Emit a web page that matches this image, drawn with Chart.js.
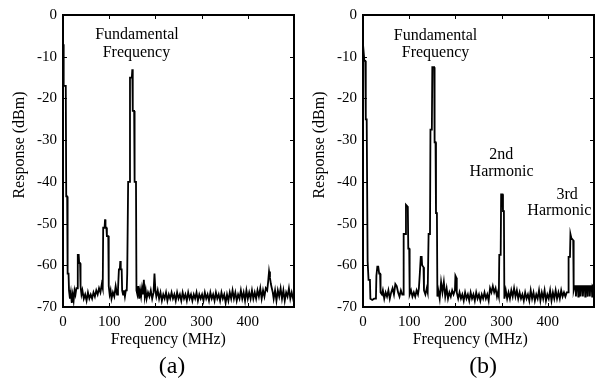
<!DOCTYPE html>
<html>
<head>
<meta charset="utf-8">
<script src="https://cdn.jsdelivr.net/npm/chart.js@4.4.1/dist/chart.umd.min.js"></script>
<style>
  html, body { margin: 0; padding: 0; background: #fff; overflow: hidden; width: 597px; height: 381px; }
  canvas { position: absolute; top: 0; }
  #chartA { left: 0; }
  #chartB { left: 300px; }
</style>
</head>
<body>
<canvas id="chartA" width="300" height="381"></canvas>
<canvas id="chartB" width="300" height="381"></canvas>
<script>
// panel (a) trace, frequency in MHz / response in dBm
const freqA = [0,1,2,6,7,9,10,12,13,15,17,19,21,23,25,27,29,31,32,34,35,37,38,40,42,45,48,51,54,57,60,63,66,69,72,75,78,81,84,86,
  87,90,91,92,94,95,98,99,101,103,105,108,111,114,117,119,121,123,124,125,127,128,130,132,134,136,138,139,140,141,144,145,149,150,151,154,155,158,159,
  161,163,165,167,169,171,173,175,177,179,181,184,187,190,193,196,198,200,202,205,208,211,214,217,220,223,226,229,232,235,238,241,244,247,250,
  253,256,259,262,265,268,271,274,277,280,283,286,289,292,295,298,301,304,307,310,313,316,319,322,325,328,331,334,337,340,343,346,349,352,355,
  358,361,364,367,370,373,376,379,382,385,388,391,394,397,400,403,406,409,412,415,418,421,424,427,430,433,436,439,442,444,446,448,450,452,454,
  456,459,462,465,468,471,474,477,480,483,486,489,492,495,498,500];
const respA = [-7,-7,-17,-17,-43.5,-43.5,-62,-62,-66,-68,-66.5,-69,-67,-68.5,-66,-67,-65.5,-65.5,-57.5,-57.5,-59.5,-59.5,-65,-67,-66,-68,-67,-68.5,-66.5,-68,-67,-68,-66.5,-67.5,-66,-67,-65.5,-66.5,-64.5,-65.5,
  -51,-51,-49,-51,-51,-53,-53,-65,-67,-66,-68,-66.5,-67.5,-65,-67,-66,-61,-61,-59,-61,-61,-66,-67,-66,-67.5,-66,-66,-62,-62,-40,-40,-15,-15,-13,-23,-23,-40,-40,-66,
  -67,-65,-68,-66,-67.5,-65.5,-67,-63.5,-67.5,-66,-68,-66.5,-67.5,-66,-68,-66.5,-62,-66,-67.5,-66,-68,-66.5,-68.5,-67,-68,-66.5,-68.5,-67,-68,-66.5,-68,-67,-68.5,-66.5,-68,
  -67,-68.5,-66.5,-68,-67,-68.5,-66.5,-68,-67,-68.5,-67,-68,-66.5,-68.5,-67,-68,-67,-68.5,-66.5,-68,-67,-68.5,-66.5,-68,-67,-68.5,-66.5,-68,-67,-68.5,-66.5,-68,-67,-69,-67,
  -68.5,-66.5,-68,-66,-68,-66.5,-68.5,-67,-68,-66,-68,-66.5,-68.5,-66,-68,-66.5,-68,-66,-68,-66.5,-68,-66,-67.5,-65.5,-68,-66,-67.5,-65.5,-66,-64,-61.5,-63,-64.5,-65.5,-66.5,
  -68,-66,-68.5,-66,-67.5,-65.5,-68,-66,-68.5,-66.5,-67.5,-65.5,-68,-66.5,-68,-67];

// panel (b) trace
const freqB = [0,2,3,5,6,8,10,12,15,16,20,24,28,29,31,33,35,37,38,41,43,46,49,52,55,58,61,64,67,70,73,76,79,82,85,
  87,88,92,93,97,98,100,101,104,107,110,113,116,119,121,123,125,127,128,131,132,135,138,140,142,145,146,149,150,154,155,157,158,160,
  161,163,166,169,172,175,178,181,184,187,190,193,196,199,200,202,203,206,209,212,215,218,221,224,227,230,233,236,239,242,245,248,251,254,257,260,
  263,266,269,272,275,278,281,284,287,290,292,294,295,298,299,302,303,305,306,309,312,315,318,321,324,327,330,333,336,339,342,345,348,351,354,357,
  360,363,366,369,372,375,378,381,384,387,390,393,396,399,402,405,408,411,414,417,420,423,426,429,432,435,438,441,444,445,448,449,451,455,456,458,
  460,461,462,465,466,467,470,471,472,475,476,477,480,481,482,485,486,487,490,491,492,495,496,497,500];
const respB = [-7,-7,-11,-11,-25,-25,-59,-63.5,-63.5,-68,-68.3,-68,-68,-62.5,-60.3,-60.3,-62,-62,-66.5,-67,-66,-68,-66.5,-67.5,-66,-68,-66.5,-65.5,-67,-64.5,-65,-66.5,-67.5,-66,-67,
  -67,-52.5,-52.5,-45.5,-46,-56,-56,-67,-66,-67.5,-66.5,-67.5,-66,-67,-65.5,-62,-58,-58,-60,-60.5,-66,-67,-65.5,-66.5,-52.5,-52.5,-27.5,-27.5,-12.5,-12.5,-30.5,-30.5,-47.5,-47.5,
  -67.5,-66,-68,-64,-66.5,-64,-67.5,-65.5,-68,-66.5,-67.5,-66,-67,-66,-62.5,-63,-66.5,-68,-66.5,-68,-67,-68.5,-66.5,-68,-67,-68.5,-66.5,-68,-67,-68.5,-66.5,-68,-67,-68.5,-67,-68,
  -66.5,-68,-67,-68.5,-65.5,-66.5,-65,-66.5,-65.5,-67.5,-66.5,-67.5,-57.5,-57.5,-43,-43,-47,-47,-68,-66,-68,-66.5,-68,-66,-67.5,-65.5,-67.5,-66,-68,-66.5,-68,-67,-68.5,-66.5,-68,-67,
  -68.5,-66,-68,-66.5,-68.5,-67,-68,-66,-68.5,-66.5,-68,-66,-68.5,-67,-68,-66,-68.5,-66.5,-68,-66,-68,-66.5,-68,-66,-67.5,-66.5,-67.5,-66.5,-66.5,-58,-58,-52.5,-53.5,-54,-66,-65,
  -65,-67.5,-65,-65,-67.5,-65,-65,-67.5,-65,-65,-67.5,-65,-65,-67.5,-65,-65,-67.5,-65,-65,-67.5,-65,-65,-67.5,-65,-65.5];

const xTicks = [0, 100, 200, 300, 400, 500];
const yTicks = [-70, -60, -50, -40, -30, -20, -10, 0];

// text notes: [text, freq, dBm]
const notesA = [['Fundamental', 160, -4.8], ['Frequency', 159, -9.1]];
const notesB = [['Fundamental', 157, -5.0], ['Frequency', 157, -9.1],
  ['2nd', 299, -33.4], ['Harmonic', 300, -37.5], ['3rd', 442, -43], ['Harmonic', 425, -47]];

const serif = '"Liberation Serif", "Times New Roman", serif';

// inward ticks on all four sides plus the box
const frameTicks = {
  id: 'frameTicks',
  afterDatasetsDraw(chart) {
    const {ctx, chartArea: a, scales: {x, y}} = chart;
    ctx.save();
    ctx.strokeStyle = '#000';
    ctx.lineWidth = 1;
    ctx.beginPath();
    xTicks.forEach(v => {
      const px = Math.round(x.getPixelForValue(v)) + 0.5;
      ctx.moveTo(px, a.bottom); ctx.lineTo(px, a.bottom - 4);
      ctx.moveTo(px, a.top); ctx.lineTo(px, a.top + 4);
    });
    yTicks.forEach(v => {
      const py = Math.round(y.getPixelForValue(v)) + 0.5;
      ctx.moveTo(a.left, py); ctx.lineTo(a.left + 4, py);
      ctx.moveTo(a.right, py); ctx.lineTo(a.right - 4, py);
    });
    ctx.stroke();
    ctx.lineWidth = 2;
    ctx.strokeRect(a.left, a.top, a.right - a.left, a.bottom - a.top);
    ctx.restore();
  }
};

const textNotes = {
  id: 'textNotes',
  afterDraw(chart, args, opts) {
    const {ctx, chartArea: a, scales: {x, y}} = chart;
    ctx.save();
    ctx.fillStyle = '#000';
    ctx.textAlign = 'center';
    ctx.textBaseline = 'middle';
    ctx.font = '16px ' + serif;
    opts.notes.forEach(n => ctx.fillText(n[0], x.getPixelForValue(n[1]), y.getPixelForValue(n[2])));
    ctx.fillText('Frequency (MHz)', x.getPixelForValue(opts.titleAt), a.bottom + 33);
    ctx.font = '24px ' + serif;
    ctx.fillText(opts.letter, x.getPixelForValue(opts.letterAt), a.bottom + 60);
    ctx.font = '16px ' + serif;
    ctx.translate(20, 145);
    ctx.rotate(-Math.PI / 2);
    ctx.fillText('Response (dBm)', 0, 0);
    ctx.restore();
  }
};

function makeChart(id, freq, resp, notes, titleAt, letter, letterAt) {
  const pts = freq.map((f, i) => ({x: f, y: resp[i]}));
  return new Chart(document.getElementById(id), {
    type: 'line',
    data: {
      datasets: [{
        data: pts,
        borderColor: '#000',
        borderWidth: 1.8,
        pointRadius: 0,
        tension: 0,
        fill: false
      }]
    },
    options: {
      responsive: false,
      animation: false,
      layout: {padding: {left: 0, top: 14, right: 2, bottom: 0}},
      plugins: {
        legend: {display: false},
        tooltip: {enabled: false},
        textNotes: {notes: notes, titleAt: titleAt, letter: letter, letterAt: letterAt}
      },
      scales: {
        x: {
          type: 'linear',
          min: 0, max: 500,
          grid: {display: false, drawTicks: false},
          border: {display: false},
          afterBuildTicks(s) { s.ticks = xTicks.map(v => ({value: v})); },
          afterFit(s) { s.height = 74; },
          ticks: {
            padding: 6,
            color: '#000',
            font: {family: serif, size: 15},
            maxRotation: 0,
            callback: v => (v === 500 ? '' : v)
          }
        },
        y: {
          min: -70, max: 0,
          grid: {display: false, drawTicks: false},
          border: {display: false},
          afterBuildTicks(s) { s.ticks = yTicks.map(v => ({value: v})); },
          afterFit(s) { s.width = 63; },
          ticks: {
            padding: 6,
            color: '#000',
            font: {family: serif, size: 15}
          }
        }
      }
    },
    plugins: [frameTicks, textNotes]
  });
}

makeChart('chartA', freqA, respA, notesA, 228, '(a)', 236);
makeChart('chartB', freqB, respB, notesB, 232, '(b)', 260);
</script>
</body>
</html>
